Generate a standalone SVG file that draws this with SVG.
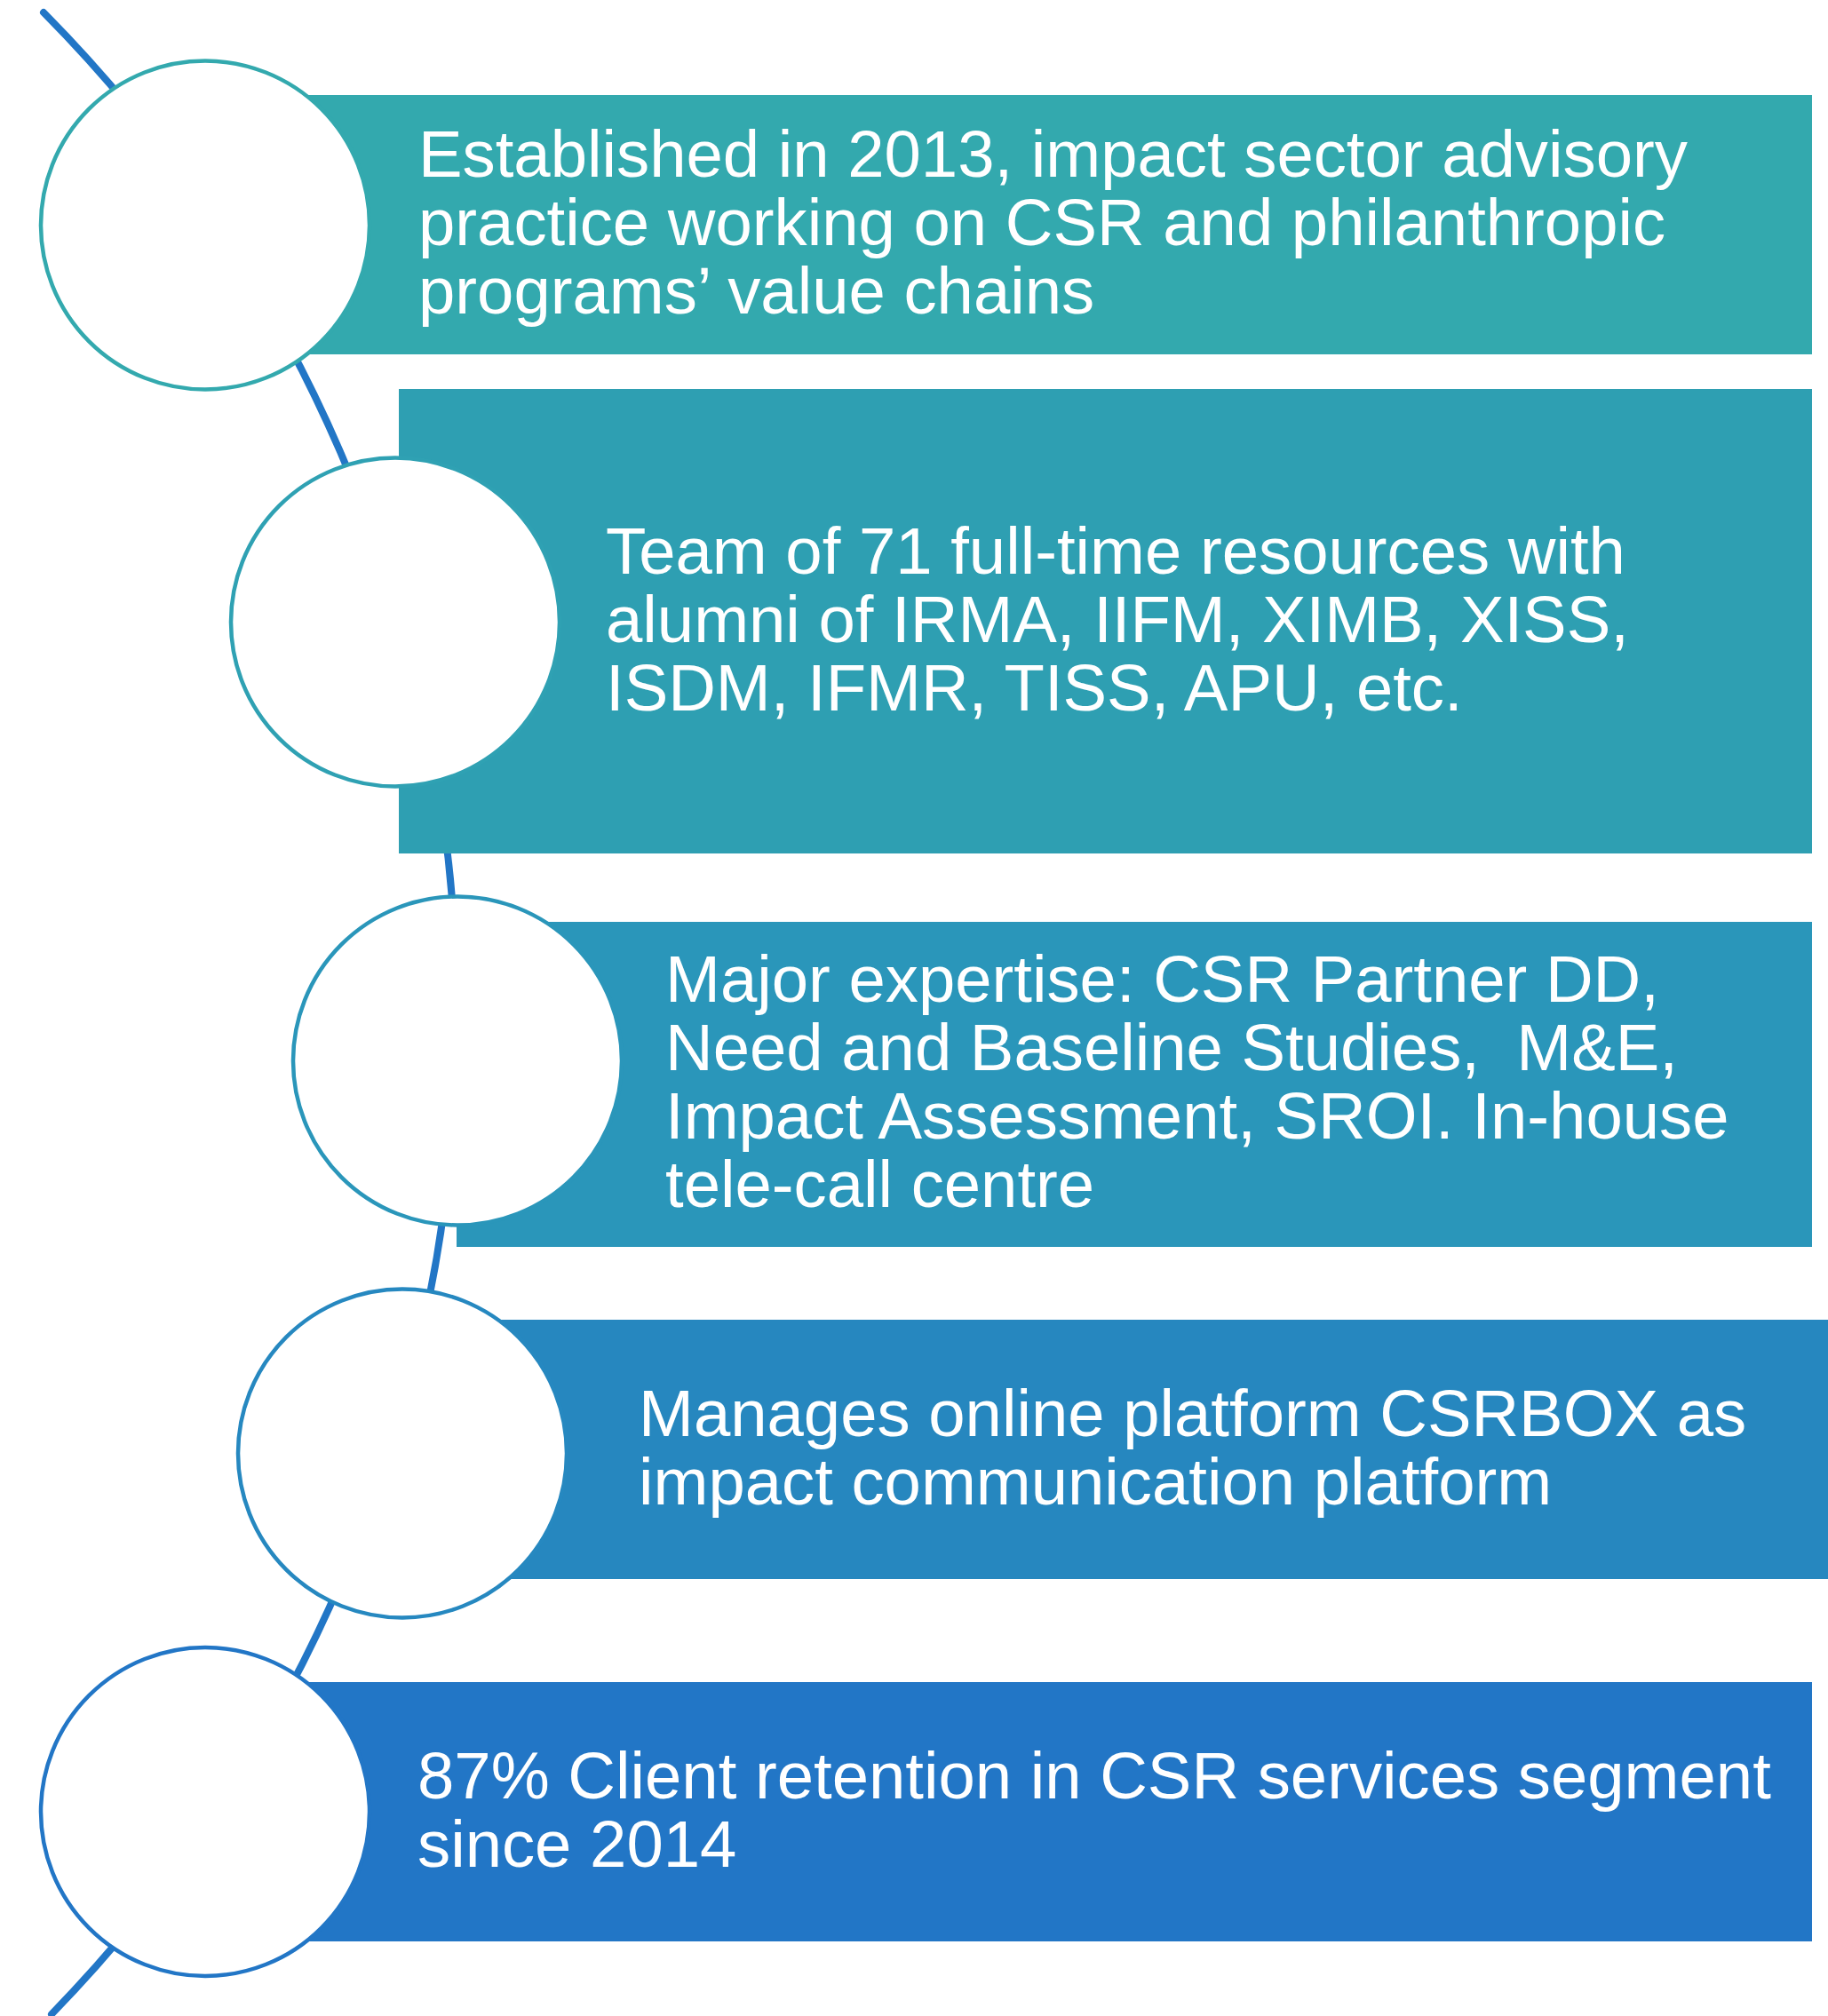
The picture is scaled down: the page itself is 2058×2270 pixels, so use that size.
<svg xmlns="http://www.w3.org/2000/svg" width="2058" height="2270" viewBox="0 0 2058 2270">
<style>
.t{font-family:"Liberation Sans",Arial,sans-serif;font-size:74.3px;fill:#FFFFFF;white-space:pre}
.c{fill:#FFFFFF;stroke-width:4.5}
.arc{fill:none;stroke:#2276C6;stroke-width:8;stroke-linecap:round}
</style>
<rect x="0" y="0" width="2058" height="2270" fill="#FFFFFF"/>
<g id="connectors">
<path class="arc" d="M 49 14 A 1608 1608 0 0 1 58 2268"/>
</g>
<g id="node1">
<rect x="230" y="107" width="1810" height="292" fill="#33A9AE"/>
<circle class="c" cx="231" cy="253.5" r="185" stroke="#33A9AE"/>
<text class="t" x="471" y="198.5">Established in 2013, impact sector advisory</text>
<text class="t" x="471" y="275.5">practice working on CSR and philanthropic</text>
<text class="t" x="471" y="352.5">programs’ value chains</text>
</g>
<g id="node2">
<rect x="449" y="438" width="1591" height="523" fill="#2E9FB2"/>
<circle class="c" cx="445" cy="700.5" r="185" stroke="#2FA1B3"/>
<text class="t" x="682" y="645.5">Team of 71 full-time resources with</text>
<text class="t" x="682" y="722.5">alumni of IRMA, IIFM, XIMB, XISS,</text>
<text class="t" x="682" y="799.5">ISDM, IFMR, TISS, APU, etc.</text>
</g>
<g id="node3">
<rect x="514" y="1038" width="1526" height="366" fill="#2A96BA"/>
<circle class="c" cx="515" cy="1194.5" r="185" stroke="#2A96BA"/>
<text class="t" x="749" y="1128">Major expertise: CSR Partner DD,</text>
<text class="t" x="749" y="1205">Need and Baseline Studies,  M&amp;E,</text>
<text class="t" x="749" y="1282">Impact Assessment, SROI. In-house</text>
<text class="t" x="749" y="1359">tele-call centre</text>
</g>
<g id="node4">
<rect x="452" y="1486" width="1606" height="292" fill="#2687BF"/>
<circle class="c" cx="453" cy="1636.5" r="185" stroke="#2688C0"/>
<text class="t" x="719" y="1616.5">Manages online platform CSRBOX as</text>
<text class="t" x="719" y="1693.5">impact communication platform</text>
</g>
<g id="node5">
<rect x="230" y="1894" width="1810" height="292" fill="#2276C6"/>
<circle class="c" cx="231" cy="2040" r="185" stroke="#2276C6"/>
<text class="t" x="470" y="2024.5">87% Client retention in CSR services segment</text>
<text class="t" x="470" y="2101.5">since 2014</text>
</g>
</svg>
